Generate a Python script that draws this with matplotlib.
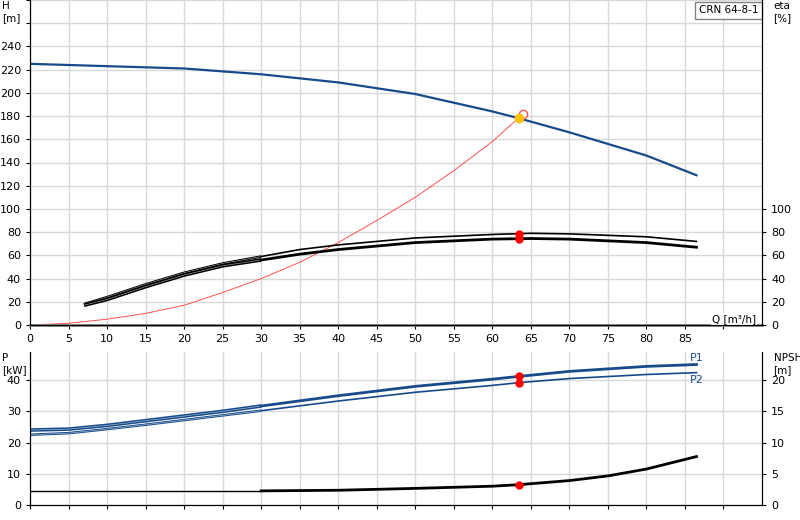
import numpy as np
import matplotlib.pyplot as plt

# pump curve data
q_h = [0, 10, 20, 30, 40, 50, 60, 63.5, 70, 80, 86.5]
h = [225, 223, 221, 216, 209, 199, 184, 178, 166, 146, 129]

q_sys = [0, 5, 10, 15, 20, 25, 30, 35, 40, 45, 50, 55, 60, 64]
h_sys = [0, 1.5, 5, 10, 17, 28, 40, 54, 71, 90, 110, 133, 158, 182]

q_eta = [7, 10, 15, 20, 25, 30, 35, 40, 50, 60, 65, 70, 80, 86.5]
eta_up = [18, 24, 35, 45, 53, 59, 65, 69, 75, 78, 79, 78.5, 76, 72]
eta_lo = [17, 22, 33, 43, 51, 56, 61, 65, 71, 74, 74.5, 74, 71, 67]

q_p = [0, 5, 10, 15, 20, 25, 30, 40, 50, 60, 63.5, 70, 80, 86.5]
p1 = [24, 24.3, 25.5, 27, 28.5, 30, 31.7, 35, 38, 40.3, 41.2, 42.8, 44.4, 45]
p2 = [22.5, 23, 24.3, 25.7, 27.2, 28.7, 30.2, 33.3, 36.1, 38.3, 39.2, 40.5, 41.8, 42.4]

q_npsh = [0, 30, 40, 50, 60, 63.5, 70, 75, 80, 86.5]
npsh = [2.25, 2.25, 2.35, 2.65, 3.0, 3.25, 3.9, 4.65, 5.75, 7.75]

q_duty = 63.5
BLUE = '#174a8b'
GRID = '#d8d8d8'


def split_draw(ax, x, y, lw, color, q_split=30):
    x = np.array(x, float)
    y = np.array(y, float)
    m1 = x <= q_split
    m2 = x >= x[m1][-1]
    ax.plot(x[m1], y[m1], color=color, lw=lw + 0.6, solid_capstyle='butt')
    ax.plot(x[m1], y[m1], color='white', lw=0.4, alpha=0.7, solid_capstyle='butt')
    ax.plot(x[m2], y[m2], color=color, lw=lw)


fig = plt.figure(figsize=(8, 5.2), dpi=100)
plt.rcParams['font.family'] = 'DejaVu Sans'

ax1 = fig.add_axes([0.0375, 0.375, 0.915, 0.625])
ax1.set_xlim(0, 95)
ax1.set_ylim(0, 280)
ax1.set_xticks(np.arange(0, 95, 5))
ax1.set_xticklabels([str(v) if v <= 85 else '' for v in range(0, 95, 5)])
ax1.set_yticks(np.arange(0, 281, 20))
ax1.set_yticklabels([str(v) if v <= 240 else '' for v in range(0, 281, 20)])
ax1.grid(True, color=GRID, lw=1)
ax1.tick_params(labelsize=8, length=3)
ax1.spines['top'].set_visible(False)
ax1.spines['bottom'].set_color('#808080')
ax1.spines['bottom'].set_linewidth(2)

ax1.plot(q_h, h, color=BLUE, lw=1.6)
ax1.plot(q_sys, h_sys, color='#ff5050', lw=0.7)
ax1.plot(q_sys[-1], h_sys[-1], 'o', mfc='white', mec='#ff5050', ms=6)
ax1.plot(q_duty, np.interp(q_duty, q_h, h), 'o', color='#ffc000', ms=6)

split_draw(ax1, q_eta, eta_up, 1.2, 'black')
split_draw(ax1, q_eta, eta_lo, 2.0, 'black')
ax1.plot([q_duty] * 2, [np.interp(q_duty, q_eta, eta_up), np.interp(q_duty, q_eta, eta_lo)],
         'o', color='red', ms=5)

ax1r = ax1.twinx()
ax1r.set_ylim(0, 280)
ax1r.set_yticks(np.arange(0, 101, 20))
ax1r.tick_params(labelsize=8, length=3)
ax1r.spines['top'].set_visible(False)

ax1.text(-3.6, 279, 'H\n[m]', fontsize=7.5, va='top', ha='left', linespacing=1.3)
ax1.text(96.5, 279, 'eta\n[%]', fontsize=7.5, va='top', ha='left', linespacing=1.3)
ax1.text(88.5, 1, 'Q [m³/h]', fontsize=7.5, ha='left', va='bottom',
         bbox=dict(fc='white', ec='none', pad=0.5))
ax1.text(94.5, 271, 'CRN 64-8-1', fontsize=7.5, ha='right', va='center',
         bbox=dict(fc='white', ec='#808080', pad=2.5))

ax2 = fig.add_axes([0.0375, 0.029, 0.915, 0.294])
ax2.set_xlim(0, 95)
ax2.set_ylim(0, 49)
ax2.set_xticks(np.arange(0, 95, 5))
ax2.set_xticklabels([])
ax2.tick_params(axis='x', length=0)
ax2.set_yticks(np.arange(0, 50, 10))
ax2.grid(True, color=GRID, lw=1)
ax2.tick_params(labelsize=8, length=3)
ax2.spines['top'].set_visible(False)

split_draw(ax2, q_p, p1, 2.0, BLUE)
split_draw(ax2, q_p, p2, 1.2, BLUE)
ax2.plot([q_duty] * 2, [np.interp(q_duty, q_p, p1), np.interp(q_duty, q_p, p2)],
         'o', color='red', ms=5)
ax2.text(86.5, 45.5, 'P1', color=BLUE, fontsize=8, ha='center', va='bottom')
ax2.text(86.5, 41.8, 'P2', color=BLUE, fontsize=8, ha='center', va='top')
ax2.text(-3.6, 48.8, 'P\n[kW]', fontsize=7.5, va='top', ha='left', linespacing=1.3)
ax2.text(96.5, 48.8, 'NPSH\n[m]', fontsize=7.5, va='top', ha='left', linespacing=1.3)

ax2r = ax2.twinx()
ax2r.set_ylim(0, 24.5)
ax2r.set_yticks(np.arange(0, 21, 5))
ax2r.tick_params(labelsize=8, length=3)
ax2r.spines['top'].set_visible(False)
q_n = np.array(q_npsh)
n = np.array(npsh)
ax2r.plot(q_n[q_n <= 30], n[q_n <= 30], color='black', lw=1.0)
ax2r.plot(q_n[q_n >= 30], n[q_n >= 30], color='black', lw=2)
ax2r.plot(q_duty, np.interp(q_duty, q_npsh, npsh), 'o', color='red', ms=5)

fig.savefig('out.png', dpi=100)
